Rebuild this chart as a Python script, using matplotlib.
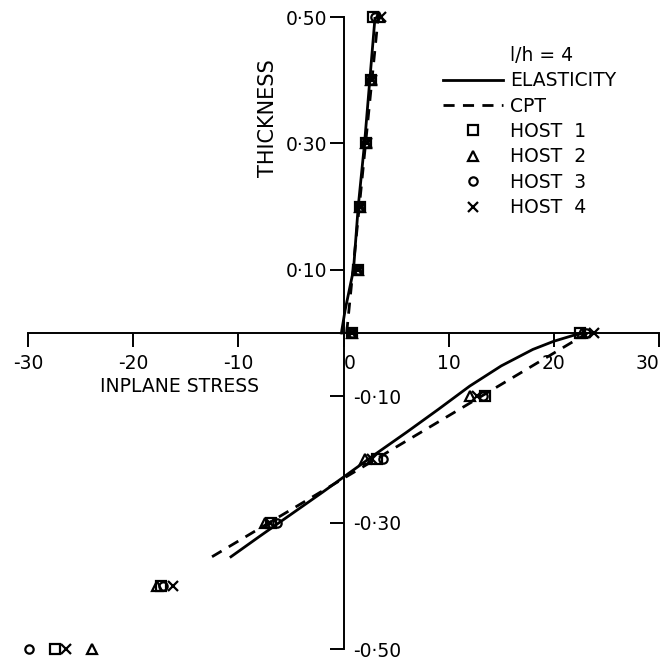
import matplotlib
matplotlib.use("Agg")
import matplotlib.pyplot as plt
from matplotlib.lines import Line2D
from matplotlib.ticker import FixedLocator, FixedFormatter

# elasticity solution, upper and lower layer
elast_up_x = [-0.2, 0.15, 0.95, 1.4, 2.0, 2.5, 3.0]
elast_up_y = [0.0, 0.036, 0.10, 0.20, 0.30, 0.40, 0.50]
elast_lo_x = [-10.7, -8.0, -5.0, -2.0, 0.0, 3.0, 6.0, 9.0, 12.0, 15.0, 18.0, 20.0, 22.0, 22.8]
elast_lo_y = [-0.354, -0.322, -0.287, -0.252, -0.228, -0.192, -0.157, -0.121,
              -0.084, -0.052, -0.026, -0.013, -0.003, 0.0]

# classical plate theory
cpt_up_x = [0.3, 3.3]
cpt_up_y = [0.0, 0.5]
cpt_lo_x = [-12.5, 23.2]
cpt_lo_y = [-0.354, 0.0]

# host results
host_y = [0.0, 0.1, 0.2, 0.3, 0.4, 0.5, 0.0, -0.1, -0.2, -0.3, -0.4, -0.5]
host1_x = [0.8, 1.4, 1.6, 2.1, 2.6, 2.8, 22.5, 13.5, 3.2, -6.9, -17.4, -27.4]
host2_x = [0.8, 1.4, 1.6, 2.1, 2.6, 3.4, 22.7, 12.0, 2.0, -7.5, -17.7, -23.9]
host3_x = [0.8, 1.4, 1.6, 2.1, 2.6, 3.0, 23.1, 13.3, 3.8, -6.3, -17.2, -29.9]
host4_x = [0.8, 1.4, 1.6, 2.2, 2.7, 3.6, 23.8, 12.7, 2.7, -7.0, -16.2, -26.4]

xticks = [-30, -20, -10, 0, 10, 20, 30]
xticklabels = ["-30", "-20", "-10", "0", "10", "20", "30"]
yticks = [0.5, 0.3, 0.1, -0.1, -0.3, -0.5]
yticklabels = ["0\u00b750", "0\u00b730", "0\u00b710", "-0\u00b710", "-0\u00b730", "-0\u00b750"]

plt.rcParams['font.family'] = ['DejaVu Sans']
FS = 13.5

fig = plt.figure(figsize=(6.64, 6.62), dpi=100)
ax = fig.add_axes([28 / 664, 0.0196, 631 / 664, 0.9547])
ax.set_xlim(-30, 30)
ax.set_ylim(-0.5, 0.5)

lw = 2.0
dash = (0, (4, 3))
ax.plot(elast_up_x, elast_up_y, color='black', lw=lw)
ax.plot(elast_lo_x, elast_lo_y, color='black', lw=lw)
ax.plot(cpt_up_x, cpt_up_y, color='black', lw=lw, linestyle=dash)
ax.plot(cpt_lo_x, cpt_lo_y, color='black', lw=lw, linestyle=dash)

mk = dict(linestyle='none', color='black', mfc='none', mew=1.6)
ax.plot(host1_x, host_y, marker='s', ms=7, clip_on=False, **mk)
ax.plot(host2_x, host_y, marker='^', ms=7, clip_on=False, **mk)
ax.plot(host3_x, host_y, marker='o', ms=6, clip_on=False, **mk)
ax.plot(host4_x, host_y, marker='x', ms=7, clip_on=False, **mk)

# axes through the origin
for s in ['top', 'right']:
    ax.spines[s].set_visible(False)
ax.spines['left'].set_position(('data', 0))
ax.spines['bottom'].set_position(('data', 0))
ax.spines['right'].set_position(('data', -0.7))
for s in ['left', 'bottom']:
    ax.spines[s].set_linewidth(1.4)

ax.xaxis.set_major_locator(FixedLocator(xticks))
ax.xaxis.set_major_formatter(FixedFormatter(xticklabels))
ax.yaxis.set_major_locator(FixedLocator(yticks))
ax.yaxis.set_major_formatter(FixedFormatter(yticklabels))
ax.tick_params(axis='both', direction='out', length=10, width=1.4, labelsize=FS, pad=2)
ax.tick_params(axis='x', pad=5)
ax.tick_params(axis='y', right=False, labelright=True)

for t, v in zip(ax.yaxis.get_major_ticks(), yticks):
    t.label1.set_visible(v > 0)
    t.label2.set_visible(v < 0)
for t, v in zip(ax.xaxis.get_major_ticks(), xticks):
    if v == 0:
        t.label1.set_horizontalalignment('left')
    if v == 30:
        t.label1.set_horizontalalignment('right')

ax.text(-7.2, 0.34, "THICKNESS", rotation=90, ha='center', va='center', fontsize=15)
ax.text(-15.6, -0.085, "INPLANE STRESS", ha='center', va='center', fontsize=FS)

handles = [
    Line2D([], [], linestyle='none'),
    Line2D([], [], color='black', lw=lw),
    Line2D([], [], color='black', lw=lw, linestyle=dash),
    Line2D([], [], marker='s', ms=7, **mk),
    Line2D([], [], marker='^', ms=7, **mk),
    Line2D([], [], marker='o', ms=6, **mk),
    Line2D([], [], marker='x', ms=7, **mk),
]
labels = ["l/h = 4", "ELASTICITY", "CPT", "HOST  1", "HOST  2", "HOST  3", "HOST  4"]
ax.legend(handles, labels, loc='upper left', bbox_to_anchor=(426 / 664, 1 - 29 / 662),
          bbox_transform=fig.transFigure, frameon=False, fontsize=FS,
          handlelength=3.2, handletextpad=0.4, labelspacing=0.34, borderpad=0.4)

fig.savefig("out.png", dpi=100)
